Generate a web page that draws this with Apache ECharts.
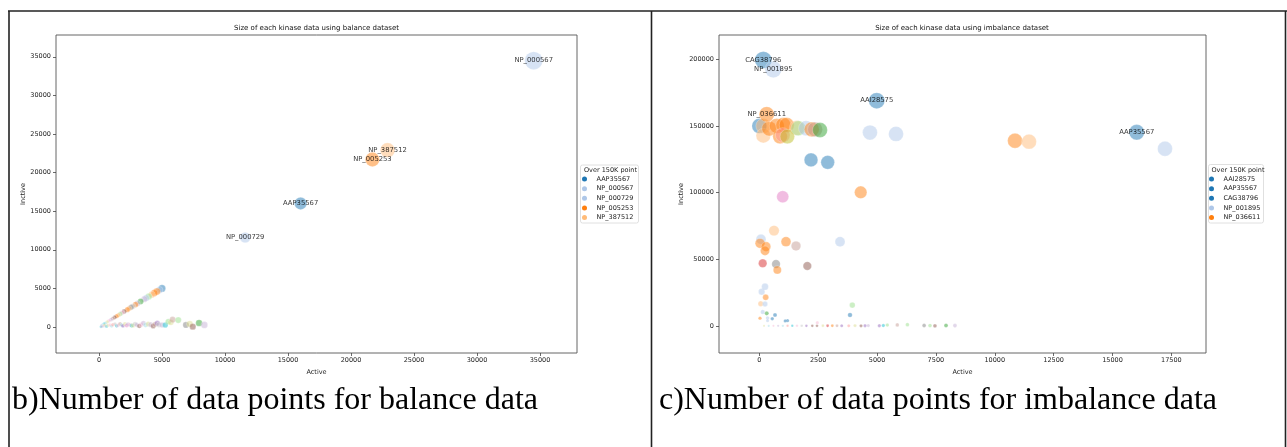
<!DOCTYPE html>
<html>
<head>
<meta charset="utf-8">
<script src="https://cdn.jsdelivr.net/npm/echarts@6/dist/echarts.min.js"></script>
<style>
html,body{margin:0;padding:0;background:#fff;}
#c{width:1287px;height:447px;}
</style>
</head>
<body>
<div id="c"></div>
<script>
// ---------- DATA ----------
// Balance dataset: labelled kinases (legend "Over 150K point")
const balNamedKinases = ['AAP35567', 'NP_000567', 'NP_000729', 'NP_005253', 'NP_387512'];
const balNamedActive = [16000, 34500, 11600, 21700, 22900];
const balNamedInactive = [16000, 34500, 11600, 21700, 22900];

// Balance dataset: remaining kinases
const balOtherActive = [5000, 4800, 4600, 4400, 4200, 3950, 3750, 3600, 3300, 3050, 2900, 2700, 2550, 2400, 2250, 2000, 1850, 1700, 1550, 1400, 1250, 1100, 950, 800, 650, 500, 400, 300, 200,
  300, 480, 600, 700, 870, 1000, 1100, 1270, 1400, 1500, 1670, 1800, 1900, 2060, 2200, 2300, 2460, 2600, 2700, 2860, 3000, 3200, 3350, 3520, 3700, 3910, 4100, 4300, 4450, 4630, 4750, 5000, 5260, 5500, 5700, 5840, 6290, 6900, 7200, 7440, 7940, 8360,
  150, 250, 350, 450, 550, 200];
const balOtherInactive = [5000, 4800, 4600, 4400, 4200, 3950, 3750, 3600, 3300, 3050, 2900, 2700, 2550, 2400, 2250, 2000, 1850, 1700, 1550, 1400, 1250, 1100, 950, 800, 650, 500, 400, 300, 200,
  60, 130, 80, 200, 260, 120, 300, 390, 150, 200, 390, 250, 150, 390, 200, 350, 260, 180, 200, 390, 280, 130, 300, 480, 250, 390, 300, 130, 350, 480, 300, 260, 260, 690, 600, 950, 900, 260, 400, 40, 520, 260,
  20, 100, 150, 250, 120, 50];

// Imbalance dataset: labelled kinases
const imbNamedKinases = ['AAI28575', 'AAP35567', 'CAG38796', 'NP_001895', 'NP_036611'];
const imbNamedActive = [4986, 16030, 170, 595, 314];
const imbNamedInactive = [168900, 145200, 199400, 192400, 158700];

// Imbalance dataset: remaining kinases
const imbOtherActive = [17230, 10860, 11455, 4700, 5806, 2196, 2905, 4307, 994, 0, 170, 170, 420, 740, 1020, 880, 1164, 1590, 994, 1190, 1656, 1983, 2225, 2366, 2578,
  72, 30, 285, 242, 624, 1134, 1559, 3428, 144, 709, 765, 2039, 100, 242, 270, 60, 242, 3950, 3852, 314, 144, 667, 550, 350, 1200, 1100, 350, 30, 2463,
  7000, 7250, 7460, 7930, 8310, 6290, 5860, 5436, 5266, 5097, 4630, 4490, 4320, 4065, 3800, 3500, 3300, 3100, 2900, 2700, 2450, 2250, 2000, 1800, 1600, 1400, 1200, 1000, 800, 600, 400, 200];
const imbOtherInactive = [132900, 138900, 138200, 145000, 144000, 124500, 122700, 100200, 96900, 150000, 150000, 142700, 148000, 150000, 150700, 142000, 150700, 148500, 143200, 142000, 148200, 148200, 147400, 147400, 146900,
  65000, 62000, 59500, 56400, 71500, 63200, 60000, 63200, 47000, 46500, 42000, 45000, 25700, 29500, 21500, 16700, 16500, 15700, 8250, 9500, 10500, 8200, 5500, 6000, 4000, 3800, 4000, 5800, 2500,
  400, 300, 100, 400, 300, 1000, 800, 700, 300, 250, 300, 200, 150, 300, 200, 250, 100, 200, 150, 200, 150, 150, 100, 200, 150, 100, 200, 100, 150, 100, 50, 100];

// Tick labels
const balTicks = [0, 5000, 10000, 15000, 20000, 25000, 30000, 35000];
const imbXTicks = [0, 2500, 5000, 7500, 10000, 12500, 15000, 17500];
const imbYTicks = [0, 50000, 100000, 150000, 200000];

// ---------- STYLE ----------
const tab20 = ['#1f77b4','#aec7e8','#ff7f0e','#ffbb78','#2ca02c','#98df8a','#d62728','#ff9896','#9467bd','#c5b0d5',
  '#8c564b','#c49c94','#e377c2','#f7b6d2','#7f7f7f','#c7c7c7','#bcbd22','#dbdb8d','#17becf','#9edae5'];
const balNamedColorIdx = [0, 1, 1, 2, 3];
const imbNamedColorIdx = [0, 0, 0, 1, 2];
const balOtherColorIdx = [0,1,2,2,3,5,1,9,4,9,2,15,14,3,2,10,13,5,3,2,10,11,9,13,17,19,18,19,1,
  19,13,18,17,13,19,7,15,18,13,11,19,8,17,12,9,13,18,17,15,9,10,13,9,19,17,9,10,11,8,15,9,18,5,17,11,5,14,17,10,4,9,
  18,19,13,17,19,9];
const imbOtherColorIdx = [1,2,3,1,1,0,0,2,12,0,3,3,2,2,2,2,2,3,7,16,5,1,2,11,4,
  1,2,2,2,3,2,11,1,6,14,2,10,1,1,2,3,1,5,0,4,1,0,0,1,0,0,1,2,13,
  14,5,10,4,9,5,11,5,18,8,9,8,10,17,7,8,11,2,6,17,10,10,8,15,13,18,7,19,9,13,19,17];

const ALPHA = 0.62;
function rgba(hex, a) {
  const n = parseInt(hex.slice(1), 16);
  return 'rgba(' + ((n >> 16) & 255) + ',' + ((n >> 8) & 255) + ',' + (n & 255) + ',' + a + ')';
}
const FONT = 'DejaVu Sans';
const balSize = v => Math.sqrt(6 + 0.0046 * (v[0] + v[1]));
const imbSize = v => Math.sqrt(4 + 0.00145 * (v[0] + v[1]));

function otherSeries(act, inact, cidx, axis, sizeFn) {
  return {
    type: 'scatter', name: 'others' + axis, xAxisIndex: axis, yAxisIndex: axis,
    symbolSize: sizeFn,
    itemStyle: { borderColor: 'rgba(255,255,255,0.6)', borderWidth: 0.5 },
    data: act.map((a, i) => ({ value: [a, inact[i]], itemStyle: { color: rgba(tab20[cidx[i]], ALPHA) } })),
    z: 2
  };
}
function namedSeries(names, act, inact, cidx, axis, sizeFn) {
  return names.map((n, i) => ({
    type: 'scatter', name: n, xAxisIndex: axis, yAxisIndex: axis,
    symbolSize: sizeFn,
    itemStyle: { color: rgba(tab20[cidx[i]], ALPHA), borderColor: 'rgba(255,255,255,0.6)', borderWidth: 0.5 },
    label: { show: true, position: 'inside', formatter: n, color: '#000', fontSize: 6.8, fontFamily: FONT },
    data: [[act[i], inact[i]]],
    z: 3
  }));
}

const plain = v => String(v);
function xAx(grid, min, max, ticks, name) {
  return {
    type: 'value', gridIndex: grid, min: min, max: max,
    axisLine: { show: false, onZero: false },
    axisTick: { show: true, customValues: ticks, length: 3, lineStyle: { color: '#444', width: 0.8 } },
    axisLabel: { customValues: ticks, formatter: plain, fontSize: 6.5, fontFamily: FONT, color: '#222', margin: 4 },
    splitLine: { show: false },
    name: name, nameLocation: 'middle', nameGap: 13,
    nameTextStyle: { fontSize: 6.5, fontFamily: FONT, color: '#222' }
  };
}
function yAx(grid, min, max, ticks, name) {
  return {
    type: 'value', gridIndex: grid, min: min, max: max,
    axisLine: { show: false, onZero: false },
    axisTick: { show: true, customValues: ticks, length: 3, lineStyle: { color: '#444', width: 0.8 } },
    axisLabel: { customValues: ticks, formatter: plain, fontSize: 6.5, fontFamily: FONT, color: '#222', margin: 5 },
    splitLine: { show: false },
    name: name, nameLocation: 'middle', nameGap: 29,
    nameTextStyle: { fontSize: 6.5, fontFamily: FONT, color: '#222' }
  };
}

function legendCfg(names, cidx, left, top) {
  return {
    data: names.map((n, i) => ({ name: n, itemStyle: { color: tab20[cidx[i]], opacity: 1, borderWidth: 0 } })),
    orient: 'vertical', left: left, top: top, padding: 0,
    icon: 'circle', itemWidth: 14, itemHeight: 5, itemGap: 1.65,
    selectedMode: false,
    textStyle: { fontSize: 6.5, fontFamily: FONT, color: '#222', lineHeight: 8, padding: 0 }
  };
}

const lineStyle = { stroke: '#222', lineWidth: 1.6 };
const option = {
  animation: false,
  grid: [
    { left: 56, top: 35, width: 521, height: 318, show: true, borderColor: '#555', borderWidth: 0.9, backgroundColor: 'transparent' },
    { left: 719, top: 35, width: 487, height: 318, show: true, borderColor: '#555', borderWidth: 0.9, backgroundColor: 'transparent' }
  ],
  xAxis: [
    xAx(0, -3413, 37937, balTicks, 'Active'),
    xAx(1, -1712, 18972, imbXTicks, 'Active')
  ],
  yAxis: [
    yAx(0, -3368, 37824, balTicks, 'Inctive'),
    yAx(1, -20240, 218140, imbYTicks, 'Inctive')
  ],
  legend: [
    legendCfg(balNamedKinases, balNamedColorIdx, 582, 175),
    legendCfg(imbNamedKinases, imbNamedColorIdx, 1209, 175)
  ],
  series: [
    otherSeries(balOtherActive, balOtherInactive, balOtherColorIdx, 0, balSize),
    ...namedSeries(balNamedKinases, balNamedActive, balNamedInactive, balNamedColorIdx, 0, balSize),
    otherSeries(imbOtherActive, imbOtherInactive, imbOtherColorIdx, 1, imbSize),
    ...namedSeries(imbNamedKinases, imbNamedActive, imbNamedInactive, imbNamedColorIdx, 1, imbSize)
  ],
  graphic: [
    // table borders
    { type: 'line', shape: { x1: 8, y1: 11, x2: 1287, y2: 11 }, style: lineStyle, silent: true },
    { type: 'line', shape: { x1: 9, y1: 11, x2: 9, y2: 447 }, style: lineStyle, silent: true },
    { type: 'line', shape: { x1: 651.5, y1: 11, x2: 651.5, y2: 447 }, style: lineStyle, silent: true },
    { type: 'line', shape: { x1: 1285.5, y1: 11, x2: 1285.5, y2: 447 }, style: lineStyle, silent: true },
    // chart titles
    { type: 'text', style: { x: 316.5, y: 28, text: 'Size of each kinase data using balance dataset', font: '7px "DejaVu Sans"', fill: '#111', align: 'center', verticalAlign: 'middle' } },
    { type: 'text', style: { x: 962, y: 28, text: 'Size of each kinase data using imbalance dataset', font: '7px "DejaVu Sans"', fill: '#111', align: 'center', verticalAlign: 'middle' } },
    // legend frames + titles
    { type: 'rect', shape: { x: 580.5, y: 165, width: 58, height: 58, r: 2 }, style: { fill: '#fff', stroke: '#d8d8d8', lineWidth: 0.8 }, z: -1, silent: true },
    { type: 'rect', shape: { x: 1208.5, y: 164.5, width: 55, height: 58.5, r: 2 }, style: { fill: '#fff', stroke: '#d8d8d8', lineWidth: 0.8 }, z: -1, silent: true },
    { type: 'text', style: { x: 584, y: 170, text: 'Over 150K point', font: '6.5px "DejaVu Sans"', fill: '#222', align: 'left', verticalAlign: 'middle' } },
    { type: 'text', style: { x: 1211.5, y: 170, text: 'Over 150K point', font: '6.5px "DejaVu Sans"', fill: '#222', align: 'left', verticalAlign: 'middle' } },
    // captions
    { type: 'text', style: { x: 12, y: 401, text: 'b)Number of data points for balance data', font: '32px "Liberation Serif"', fill: '#000', align: 'left', verticalAlign: 'middle' } },
    { type: 'text', style: { x: 659, y: 401, text: 'c)Number of data points for imbalance data', font: '32px "Liberation Serif"', fill: '#000', align: 'left', verticalAlign: 'middle' } }
  ]
};
const chart = echarts.init(document.getElementById('c'), null, { renderer: 'canvas' });
chart.setOption(option);
</script>
</body>
</html>
